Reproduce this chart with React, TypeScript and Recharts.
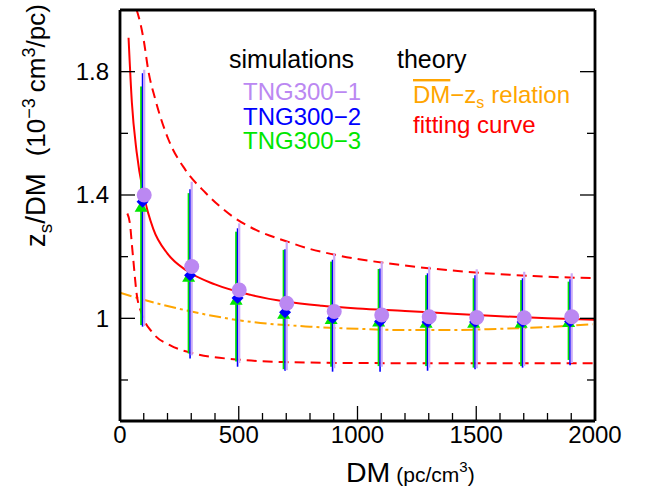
import { ComposedChart, Line, Scatter, ErrorBar, XAxis, YAxis } from "recharts";

const FONT = '"Liberation Sans", Arial, Helvetica, sans-serif';

// DM bins of the simulation points (pc/cm^3)
const dmBins = [100, 300, 500, 700, 900, 1100, 1300, 1500, 1700, 1900];

// TNG300-1
const tng1Mid = [1.4, 1.168, 1.092, 1.049, 1.022, 1.011, 1.005, 1.003, 1.002, 1.005];
const tng1Low = [0.975, 0.88, 0.855, 0.832, 0.838, 0.843, 0.84, 0.838, 0.845, 0.855];
const tng1High = [1.806, 1.443, 1.308, 1.249, 1.211, 1.184, 1.168, 1.159, 1.151, 1.146];

// TNG300-2
const tng2Mid = [1.378, 1.14, 1.066, 1.02, 1.0, 0.99, 0.988, 0.988, 0.988, 0.99];
const tng2Low = [0.973, 0.87, 0.843, 0.83, 0.827, 0.827, 0.83, 0.835, 0.84, 0.848];
const tng2High = [1.795, 1.419, 1.292, 1.224, 1.19, 1.162, 1.146, 1.14, 1.13, 1.127];

// TNG300-3
const tng3Mid = [1.362, 1.135, 1.06, 1.015, 0.998, 0.99, 0.986, 0.986, 0.986, 0.988];
const tng3Low = [0.978, 0.886, 0.86, 0.835, 0.843, 0.845, 0.845, 0.84, 0.845, 0.865];
const tng3High = [1.752, 1.406, 1.281, 1.222, 1.184, 1.16, 1.14, 1.13, 1.124, 1.119];

// theory curves, [DM, zs/DM]
const fitCurve = [
  [36, 1.91], [50, 1.7], [70, 1.54], [100, 1.4], [140, 1.29], [200, 1.21],
  [280, 1.155], [400, 1.11], [550, 1.076], [700, 1.054], [850, 1.041],
  [1000, 1.032], [1200, 1.024], [1400, 1.015], [1600, 1.007], [1800, 1.0], [2000, 0.995],
];
const fitUpper = [
  [70, 2.0], [78, 1.98], [99, 1.906], [120, 1.8], [148, 1.712], [204, 1.58],
  [274, 1.483], [359, 1.408], [471, 1.332], [583, 1.283], [700, 1.25], [800, 1.225],
  [900, 1.207], [1180, 1.173], [1460, 1.151], [1740, 1.137], [2000, 1.13],
];
const fitLower = [
  [31, 1.34], [43, 1.3], [50, 1.24], [56, 1.19], [70, 1.08], [91, 1.016],
  [140, 0.951], [210, 0.913], [300, 0.888], [500, 0.866], [700, 0.858],
  [1000, 0.855], [1500, 0.854], [2000, 0.854],
];
const meanRelation = [
  [0, 1.083], [100, 1.06], [200, 1.04], [337, 1.016], [547, 0.989], [800, 0.973],
  [1000, 0.966], [1200, 0.962], [1400, 0.962], [1600, 0.966], [1800, 0.972], [1990, 0.981],
];

// axes
const xTicks = [0, 100, 200, 300, 400, 500, 600, 700, 800, 900, 1000, 1100, 1200, 1300, 1400, 1500, 1600, 1700, 1800, 1900, 2000];
const xLabels = [0, 500, 1000, 1500, 2000];
const yTicks = [0.8, 1.0, 1.2, 1.4, 1.6, 1.8];
const yLabels = [1.0, 1.4, 1.8];

// small DM shift so the three error bars sit side by side
const SHIFT1 = 2;
const SHIFT2 = -5;
const SHIFT3 = -11;

const simRows = (mid: number[], low: number[], high: number[], shift: number) =>
  dmBins.map((dm, i) => ({ x: dm + shift, y: mid[i], err: [mid[i] - low[i], high[i] - mid[i]] }));
const curveRows = (pts: number[][]) => pts.map(([x, y]) => ({ x, y }));

const isLabel = (list: number[], v: number) => list.some((l) => Math.abs(l - v) < 1e-6);

function BottomTick(props: any) {
  const { x, y, payload } = props;
  const major = isLabel(xLabels, payload.value);
  return (
    <g>
      <line x1={x} y1={y} x2={x} y2={y - (major ? 15 : 8)} stroke="#000" strokeWidth={1.3} />
      {major && (
        <text x={x} y={y + 22} textAnchor="middle" fontSize={24} fontFamily={FONT} fill="#000">
          {payload.value}
        </text>
      )}
    </g>
  );
}

function TopTick(props: any) {
  const { x, y, payload } = props;
  const major = isLabel(xLabels, payload.value);
  return <line x1={x} y1={y} x2={x} y2={y + (major ? 15 : 8)} stroke="#000" strokeWidth={1.3} />;
}

function LeftTick(props: any) {
  const { x, y, payload } = props;
  const major = isLabel(yLabels, payload.value);
  return (
    <g>
      <line x1={x} y1={y} x2={x + (major ? 15 : 8)} y2={y} stroke="#000" strokeWidth={1.3} />
      {major && (
        <text x={x - 11} y={y + 8.5} textAnchor="end" fontSize={24} fontFamily={FONT} fill="#000">
          {payload.value === 1 ? "1" : payload.value.toFixed(1)}
        </text>
      )}
    </g>
  );
}

function RightTick(props: any) {
  const { x, y, payload } = props;
  const major = isLabel(yLabels, payload.value);
  return <line x1={x} y1={y} x2={x - (major ? 15 : 8)} y2={y} stroke="#000" strokeWidth={1.3} />;
}

const purpleDot = (p: any) => <circle cx={p.cx} cy={p.cy} r={7.5} fill="#bb88f2" />;
const blueDot = (p: any) => (
  <polygon
    points={`${p.cx},${p.cy - 6} ${p.cx + 6},${p.cy} ${p.cx},${p.cy + 6} ${p.cx - 6},${p.cy}`}
    fill="#0000ff"
  />
);
const greenDot = (p: any) => (
  <polygon
    points={`${p.cx},${p.cy - 6} ${p.cx + 6.5},${p.cy + 5} ${p.cx - 6.5},${p.cy + 5}`}
    fill="#00e600"
  />
);

function Texts() {
  return (
    <svg
      width={654}
      height={495}
      style={{ position: "absolute", left: 0, top: 0, pointerEvents: "none" }}
      fontFamily={FONT}
    >
      <text x={229} y={68} fontSize={25} fill="#000">simulations</text>
      <text x={397} y={68} fontSize={25} fill="#000">theory</text>
      <text x={243} y={100} fontSize={24} fill="#bb88f2">TNG300−1</text>
      <text x={243} y={125} fontSize={24} fill="#0000ff">TNG300−2</text>
      <text x={243} y={149} fontSize={24} fill="#00e600">TNG300−3</text>
      <text x={413} y={103} fontSize={24} fill="#ffa500">
        <tspan style={{ textDecoration: "overline" }}>DM</tspan>
        <tspan>−z</tspan>
        <tspan fontSize={16} dy={5}>s</tspan>
        <tspan dy={-5} dx={7}>relation</tspan>
      </text>
      <text x={413} y={133} fontSize={24} fill="#ff0000">fitting curve</text>

      {/* x axis title */}
      <text x={346} y={482} fontSize={28.5} fill="#000">
        DM
        <tspan fontSize={21} dx={6}>(pc/cm</tspan>
        <tspan fontSize={15} dy={-10}>3</tspan>
        <tspan fontSize={21} dy={10}>)</tspan>
      </text>

      {/* y axis title */}
      <text x={45} y={247} transform="rotate(-90 45 247)" fontSize={27.5} fill="#000">
        z
        <tspan fontSize={19} dy={7}>s</tspan>
        <tspan dy={-7}>/DM</tspan>
        <tspan fontSize={26} dx={17}>(10</tspan>
        <tspan fontSize={18} dy={-10}>−3</tspan>
        <tspan fontSize={26} dy={10} dx={6}>cm</tspan>
        <tspan fontSize={18} dy={-10}>3</tspan>
        <tspan fontSize={26} dy={10}>/pc)</tspan>
      </text>
    </svg>
  );
}

export default function App() {
  return (
    <div style={{ position: "absolute", left: 0, top: 0, width: 654, height: 495, background: "#fff" }}>
      <ComposedChart width={654} height={495} margin={{ top: 0, right: 0, bottom: 0, left: 0 }}>
        <XAxis
          dataKey="x"
          type="number"
          domain={[0, 2000]}
          ticks={xTicks}
          interval={0}
          height={74}
          tickSize={0}
          tickMargin={0}
          tickLine={false}
          tick={(p: any) => <BottomTick {...p} />}
          axisLine={{ stroke: "#000", strokeWidth: 2.8 }}
          allowDataOverflow
        />
        <XAxis
          xAxisId="top"
          orientation="top"
          type="number"
          domain={[0, 2000]}
          ticks={xTicks}
          interval={0}
          height={10}
          tickSize={0}
          tickMargin={0}
          tickLine={false}
          tick={(p: any) => <TopTick {...p} />}
          axisLine={{ stroke: "#000", strokeWidth: 2.8 }}
          allowDataOverflow
        />
        <YAxis
          dataKey="y"
          type="number"
          domain={[0.667, 2.0]}
          ticks={yTicks}
          interval={0}
          width={120}
          tickSize={0}
          tickMargin={0}
          tickLine={false}
          tick={(p: any) => <LeftTick {...p} />}
          axisLine={{ stroke: "#000", strokeWidth: 2.8 }}
          allowDataOverflow
        />
        <YAxis
          yAxisId="right"
          orientation="right"
          type="number"
          domain={[0.667, 2.0]}
          ticks={yTicks}
          interval={0}
          width={59}
          tickSize={0}
          tickMargin={0}
          tickLine={false}
          tick={(p: any) => <RightTick {...p} />}
          axisLine={{ stroke: "#000", strokeWidth: 2.8 }}
          allowDataOverflow
        />

        <Line
          data={curveRows(meanRelation)}
          dataKey="y"
          type="monotone"
          stroke="#ffa500"
          strokeWidth={2}
          strokeDasharray="12 4 3 4"
          dot={false}
          isAnimationActive={false}
        />
        <Line
          data={curveRows(fitUpper)}
          dataKey="y"
          type="monotone"
          stroke="#ff0000"
          strokeWidth={2}
          strokeDasharray="10 6"
          dot={false}
          isAnimationActive={false}
        />
        <Line
          data={curveRows(fitLower)}
          dataKey="y"
          type="monotone"
          stroke="#ff0000"
          strokeWidth={2}
          strokeDasharray="10 6"
          dot={false}
          isAnimationActive={false}
        />
        <Line
          data={curveRows(fitCurve)}
          dataKey="y"
          type="monotone"
          stroke="#ff0000"
          strokeWidth={2}
          dot={false}
          isAnimationActive={false}
        />

        <Scatter data={simRows(tng3Mid, tng3Low, tng3High, SHIFT3)} dataKey="y" shape={greenDot} isAnimationActive={false}>
          <ErrorBar dataKey="err" direction="y" width={0} stroke="#00e600" strokeWidth={2} />
        </Scatter>
        <Scatter data={simRows(tng2Mid, tng2Low, tng2High, SHIFT2)} dataKey="y" shape={blueDot} isAnimationActive={false}>
          <ErrorBar dataKey="err" direction="y" width={0} stroke="#0000ff" strokeWidth={1.6} />
        </Scatter>
        <Scatter data={simRows(tng1Mid, tng1Low, tng1High, SHIFT1)} dataKey="y" shape={purpleDot} isAnimationActive={false}>
          <ErrorBar dataKey="err" direction="y" width={0} stroke="#cbaaf7" strokeWidth={2.2} />
        </Scatter>
      </ComposedChart>
      <Texts />
    </div>
  );
}
